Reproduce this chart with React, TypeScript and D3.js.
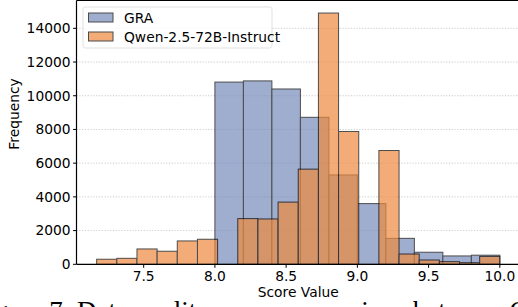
import React from "react";
import * as d3 from "d3";

// histogram counts
const graBinStart = 8.0;
const graBinEnd = 10.0;
const graCounts = [10810, 10880, 10400, 8720, 5300, 3600, 1540, 715, 495, 540];

const qwenBinStart = 7.17;
const qwenBinEnd = 10.0;
const qwenCounts = [
  300, 355, 910, 775, 1385, 1485, 0, 2710, 2690, 3690,
  5645, 14905, 7880, 0, 6750, 610, 255, 155, 95, 470,
];

const yTicks = [0, 2000, 4000, 6000, 8000, 10000, 12000, 14000];
const xTicks = [7.5, 8.0, 8.5, 9.0, 9.5, 10.0];

const seriesNames = ["GRA", "Qwen-2.5-72B-Instruct"];
const seriesColors = ["#778bbc", "#ee8a3e"];

const W = 518;
const H = 307;
const margin = { top: 0.5, right: -2, bottom: 42.7, left: 76.5 };
const FONT = "DejaVu Sans, sans-serif";

function toBins(start: number, end: number, counts: number[]) {
  const step = (end - start) / counts.length;
  return counts.map((c, i) => ({ x0: start + i * step, x1: start + (i + 1) * step, c }));
}

export default function App() {
  const x = d3.scaleLinear()
    .domain([qwenBinStart - (qwenBinEnd - qwenBinStart) * 0.05, qwenBinEnd + (qwenBinEnd - qwenBinStart) * 0.05])
    .range([margin.left, W - margin.right]);
  const yMax = d3.max(qwenCounts)! * 1.05;
  const y = d3.scaleLinear().domain([0, yMax]).range([H - margin.bottom, margin.top]);

  const series = [
    toBins(graBinStart, graBinEnd, graCounts),
    toBins(qwenBinStart, qwenBinEnd, qwenCounts),
  ];

  const x0 = x.range()[0];
  const x1 = x.range()[1];
  const yb = y(0);

  return (
    <svg width={W} height={H} style={{ position: "absolute", left: 0, top: 0 }}>
      <rect width={W} height={H} fill="#fff" />
      {/* grid */}
      {yTicks.map(t => (
        <line key={"g" + t} x1={x0} x2={x1} y1={y(t)} y2={y(t)}
          stroke="#b0b0b0" strokeWidth={0.8} strokeDasharray="1.2,1.6" opacity={0.8} />
      ))}
      {/* bars */}
      {series.map((bins, si) => (
        <g key={si} opacity={0.7}>
          {bins.filter(b => b.c > 0).map((b, i) => (
            <rect key={i} x={x(b.x0)} y={y(b.c)} width={x(b.x1) - x(b.x0)} height={yb - y(b.c)}
              fill={seriesColors[si]} stroke="#000" strokeWidth={1} />
          ))}
        </g>
      ))}
      {/* spines */}
      <line x1={x0} x2={x0} y1={margin.top} y2={yb} stroke="#000" strokeWidth={1.2} />
      <line x1={x0} x2={x1} y1={yb} y2={yb} stroke="#000" strokeWidth={1.2} />
      <line x1={x0} x2={x1} y1={margin.top} y2={margin.top} stroke="#000" strokeWidth={1.2} />
      {/* y axis */}
      {yTicks.map(t => (
        <g key={"y" + t}>
          <line x1={x0 - 3.5} x2={x0} y1={y(t)} y2={y(t)} stroke="#000" strokeWidth={1} />
          <text x={x0 - 6} y={y(t)} dy="0.35em" textAnchor="end" fontFamily={FONT} fontSize={13.8}>{t}</text>
        </g>
      ))}
      {/* x axis */}
      {xTicks.map(t => (
        <g key={"x" + t}>
          <line x1={x(t)} x2={x(t)} y1={yb} y2={yb + 3.5} stroke="#000" strokeWidth={1} />
          <text x={x(t)} y={yb + 17} textAnchor="middle" fontFamily={FONT} fontSize={13.8}>{t.toFixed(1)}</text>
        </g>
      ))}
      <text x={(x0 + x1) / 2} y={297} textAnchor="middle" fontFamily={FONT} fontSize={13.8}>Score Value</text>
      <text transform="translate(19,114) rotate(-90)" textAnchor="middle" fontFamily={FONT} fontSize={13.8}>Frequency</text>
      {/* legend */}
      <rect x={83} y={7} width={189} height={41} rx={2.5} fill="#fff" fillOpacity={0.8} stroke="#d9d9d9" strokeWidth={0.8} />
      {seriesNames.map((n, i) => (
        <g key={n}>
          <rect x={88.5} y={13 + i * 19} width={24.5} height={9} fill={seriesColors[i]} stroke="#000" strokeWidth={1} opacity={0.7} />
          <text x={124} y={22.5 + i * 19} fontFamily={FONT} fontSize={13.8}>{n}</text>
        </g>
      ))}
      {/* caption, cut off by the frame */}
      <text x={-28} y={320} fontFamily="Liberation Serif, serif" fontSize={27}>
        Figure 7: Data quality score comparison between GRA and Qwen-2.5-72B-Instruct
      </text>
    </svg>
  );
}
